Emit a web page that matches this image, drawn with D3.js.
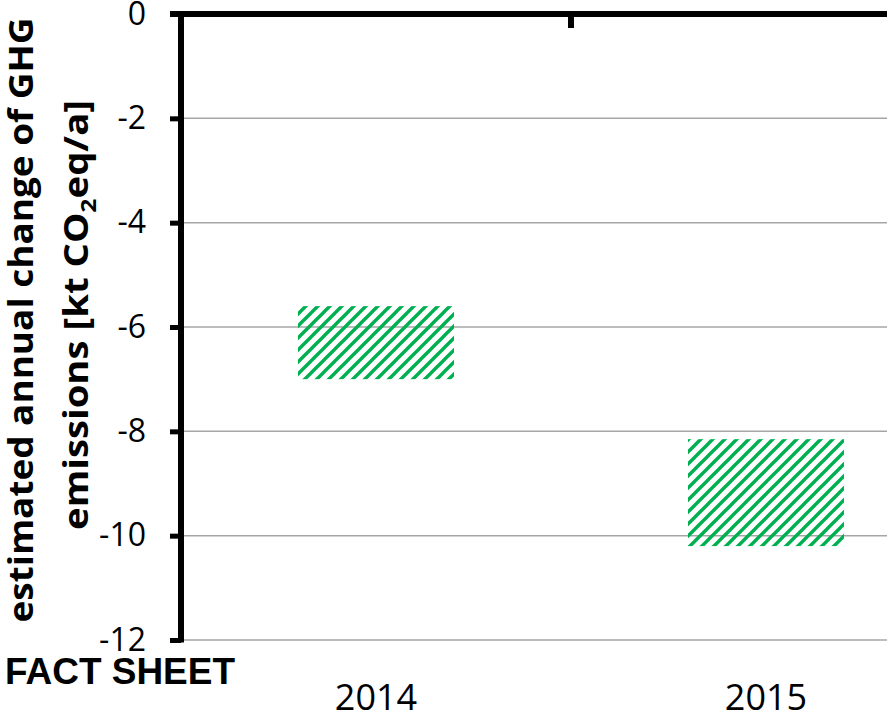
<!DOCTYPE html>
<html>
<head>
<meta charset="utf-8">
<script src="https://cdn.jsdelivr.net/npm/d3@7"></script>
<style>
  body { margin: 0; background: #fff; }
  svg { display: block; }
</style>
</head>
<body>
<div id="chart"></div>
<script>
// data (floating bars: top and bottom of each range)
const years = ["2014", "2015"];
const upper = [-5.6, -8.15];
const lower = [-7.0, -10.2];
const yTicks = [0, -2, -4, -6, -8, -10, -12];

const W = 894, H = 714;
const plotLeft = 181, plotTop = 14, plotBottom = 640, gridEnd = 887;

const svg = d3.select("#chart").append("svg")
  .attr("width", W).attr("height", H);

// hatch pattern, wide upward diagonal
const defs = svg.append("defs");
defs.append("pattern")
    .attr("id", "hatch")
    .attr("patternUnits", "userSpaceOnUse")
    .attr("width", 12).attr("height", 12)
  .append("path")
    .attr("d", "M-6,6 L6,-6 M0,12 L12,0 M6,18 L18,6")
    .attr("stroke", "#00b050")
    .attr("stroke-width", 3.4);

const y = d3.scaleLinear().domain([-12, 0]).range([plotBottom, plotTop]);
const x = d3.scaleBand().domain(years).range([plotLeft, plotLeft + 780]).padding(0);

// gridlines
svg.append("g")
  .selectAll("line")
  .data(yTicks.filter(d => d !== 0))
  .join("line")
    .attr("x1", plotLeft).attr("x2", gridEnd)
    .attr("y1", d => y(d)).attr("y2", d => y(d))
    .attr("stroke", "#a6a6a6")
    .attr("stroke-width", 1.5);

// bars
const barW = x.bandwidth() * 0.4;
svg.append("g")
  .selectAll("rect")
  .data(years)
  .join("rect")
    .attr("x", d => x(d) + (x.bandwidth() - barW) / 2)
    .attr("width", barW)
    .attr("y", (d, i) => y(upper[i]))
    .attr("height", (d, i) => y(lower[i]) - y(upper[i]))
    .attr("fill", "url(#hatch)");

// y axis
const yAxis = svg.append("g")
  .attr("transform", `translate(${plotLeft},0)`)
  .call(d3.axisLeft(y).tickValues(yTicks).tickSize(11).tickPadding(24));
yAxis.select(".domain").remove();
yAxis.selectAll(".tick line").attr("stroke", "#000").attr("stroke-width", 5);
yAxis.selectAll(".tick text")
  .attr("fill", "#000")
  .style("font-family", "'Open Sans', sans-serif")
  .style("font-size", "32px")
  .text(d => d === 0 ? "0" : "-" + Math.abs(d));

svg.append("line")
  .attr("x1", plotLeft).attr("x2", plotLeft)
  .attr("y1", y(0) - 3).attr("y2", y(-12) + 2.5)
  .attr("stroke", "#000").attr("stroke-width", 6);

// x axis line at zero (on top) with tick between categories
svg.append("line")
  .attr("x1", plotLeft - 11).attr("x2", gridEnd)
  .attr("y1", y(0)).attr("y2", y(0))
  .attr("stroke", "#000").attr("stroke-width", 6);
svg.append("line")
  .attr("x1", x("2015")).attr("x2", x("2015"))
  .attr("y1", y(0)).attr("y2", y(0) + 14)
  .attr("stroke", "#000").attr("stroke-width", 6);

// category labels at the bottom
svg.append("g")
  .selectAll("text")
  .data(years)
  .join("text")
    .attr("x", d => x(d) + x.bandwidth() / 2)
    .attr("y", 710)
    .attr("text-anchor", "middle")
    .style("font-family", "'Open Sans', sans-serif")
    .style("font-size", "36px")
    .text(d => d);

// y axis title, two lines
const title = svg.append("g")
  .style("font-family", "'Open Sans', sans-serif")
  .style("font-weight", "bold")
  .style("font-size", "34px");
title.append("text")
  .attr("transform", "translate(33,320) rotate(-90)")
  .attr("text-anchor", "middle")
  .attr("textLength", 605)
  .attr("lengthAdjust", "spacingAndGlyphs")
  .text("estimated annual change of GHG");
const t2 = title.append("text")
  .attr("transform", "translate(88,315) rotate(-90)")
  .attr("text-anchor", "middle")
  .attr("textLength", 430)
  .attr("lengthAdjust", "spacingAndGlyphs");
t2.append("tspan").text("emissions [kt CO");
t2.append("tspan").attr("dy", 8).style("font-size", "22px").text("2");
t2.append("tspan").attr("dy", -8).text("eq/a]");

svg.append("text")
  .attr("x", 5).attr("y", 684)
  .attr("textLength", 230)
  .attr("lengthAdjust", "spacingAndGlyphs")
  .style("font-family", "'Liberation Sans', Arial, sans-serif")
  .style("font-weight", "bold")
  .style("font-size", "36px")
  .text("FACT SHEET");
</script>
</body>
</html>
